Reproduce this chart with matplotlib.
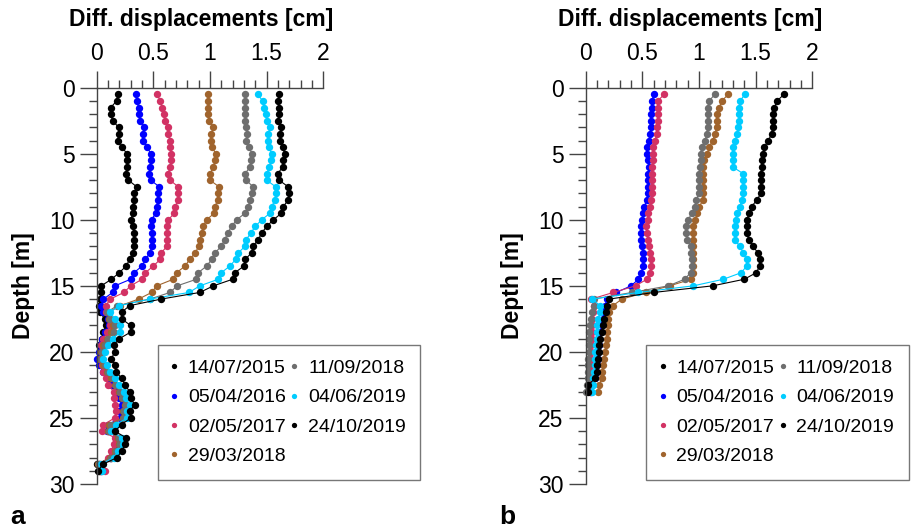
"""
Differential displacement profiles (inclinometer), two boreholes a / b.
"""

import matplotlib
matplotlib.use("Agg")
import matplotlib.pyplot as plt
from matplotlib.lines import Line2D
from matplotlib.ticker import MultipleLocator

plt.rcParams["font.family"] = ["Liberation Sans", "DejaVu Sans"]

# ── Data ───────────────────────────────────────────────────────────────────
DATES = ["14/07/2015", "05/04/2016", "02/05/2017", "29/03/2018",
         "11/09/2018", "04/06/2019", "24/10/2019"]
COLORS = ["#000000", "#0000FF", "#D23264", "#A0642D",
          "#6E6E6E", "#00CCFF", "#000000"]

# depth of readings [m]
DEPTH_A = [0.5, 1, 1.5, 2, 2.5, 3, 3.5, 4, 4.5, 5, 5.5, 6, 6.5, 7, 7.5, 8, 8.5, 9, 9.5, 10,
           10.5, 11, 11.5, 12, 12.5, 13, 13.5, 14, 14.5, 15, 15.5, 16, 16.5, 17, 17.5, 18,
           18.5, 19, 19.5, 20, 20.5, 21, 21.5, 22, 22.5, 23, 23.5, 24, 24.5, 25, 25.5, 26,
           26.5, 27, 27.5, 28, 28.5, 29]
DEPTH_B = [0.5, 1, 1.5, 2, 2.5, 3, 3.5, 4, 4.5, 5, 5.5, 6, 6.5, 7, 7.5, 8, 8.5, 9, 9.5, 10,
           10.5, 11, 11.5, 12, 12.5, 13, 13.5, 14, 14.5, 15, 15.5, 16, 16.5, 17, 17.5, 18,
           18.5, 19, 19.5, 20, 20.5, 21, 21.5, 22, 22.5, 23]

# panel a, diff. displacements [cm]
A_2015_07 = [0.185, 0.176, 0.124, 0.124, 0.14, 0.194, 0.194, 0.185, 0.22, 0.27, 0.27, 0.27, 0.256, 0.28, 0.353, 0.33, 0.33, 0.32, 0.32, 0.30,
             0.32, 0.33, 0.33, 0.33, 0.32, 0.29, 0.26, 0.20, 0.13, 0.04, 0.04, 0.03,
             0.02, 0.03, 0.07, 0.08, 0.06, 0.05, 0.02, 0.03, 0.02, 0.04, 0.07, 0.11, 0.14, 0.19, 0.21, 0.24, 0.21, 0.22, 0.11, 0.10, 0.20, 0.20, 0.17, 0.13, 0.0, 0.02]
A_2016_04 = [0.347, 0.353, 0.37, 0.376, 0.382, 0.42, 0.406, 0.406, 0.447, 0.476, 0.476, 0.47, 0.465, 0.476, 0.553, 0.544, 0.538, 0.53, 0.52, 0.485,
             0.48, 0.485, 0.485, 0.485, 0.47, 0.43, 0.40, 0.33, 0.30, 0.16, 0.14, 0.06,
             0.04, 0.06, 0.10, 0.11, 0.07, 0.05, 0.03, 0.02, 0.0, 0.02, 0.06, 0.10, 0.13, 0.18, 0.20, 0.22, 0.20, 0.21, 0.10, 0.09, 0.19, 0.19, 0.16, 0.12, 0.02, 0.04]
A_2017_05 = [0.535, 0.56, 0.58, 0.594, 0.60, 0.626, 0.632, 0.647, 0.647, 0.66, 0.656, 0.647, 0.632, 0.647, 0.72, 0.72, 0.72, 0.69, 0.685, 0.632,
             0.62, 0.62, 0.62, 0.62, 0.57, 0.56, 0.50, 0.43, 0.40, 0.30, 0.24, 0.12,
             0.08, 0.08, 0.12, 0.12, 0.09, 0.06, 0.04, 0.06, 0.03, 0.05, 0.06, 0.08, 0.10, 0.15, 0.15, 0.16, 0.17, 0.16, 0.06, 0.05, 0.16, 0.15, 0.13, 0.10, 0.03, 0.07]
A_2018_03 = [0.985, 0.985, 0.985, 0.985, 0.99, 1.03, 1.01, 1.01, 1.02, 1.05, 1.044, 1.03, 1.0, 1.0, 1.08, 1.067, 1.067, 1.044, 1.038, 0.97,
             0.94, 0.925, 0.91, 0.90, 0.87, 0.82, 0.78, 0.706, 0.676, 0.53, 0.485, 0.37,
             0.21, 0.10, 0.11, 0.14, 0.13, 0.09, 0.06, 0.04, 0.03, 0.06, 0.09, 0.13, 0.16, 0.20, 0.22, 0.25, 0.23, 0.23, 0.11, 0.10, 0.19, 0.20, 0.16, 0.12, 0.01, 0.03]
A_2018_09 = [1.31, 1.31, 1.31, 1.31, 1.31, 1.32, 1.33, 1.32, 1.344, 1.37, 1.36, 1.353, 1.31, 1.32, 1.38, 1.367, 1.353, 1.338, 1.31, 1.235,
             1.19, 1.156, 1.13, 1.10, 1.044, 1.015, 0.97, 0.897, 0.88, 0.71, 0.647, 0.47,
             0.18, 0.09, 0.12, 0.16, 0.15, 0.10, 0.07, 0.05, 0.04, 0.07, 0.10, 0.14, 0.17, 0.21, 0.23, 0.26, 0.24, 0.24, 0.13, 0.11, 0.20, 0.21, 0.17, 0.13, 0.02, 0.04]
A_2019_06 = [1.42, 1.465, 1.48, 1.494, 1.5, 1.53, 1.515, 1.515, 1.52, 1.544, 1.538, 1.524, 1.5, 1.5, 1.58, 1.58, 1.574, 1.544, 1.53, 1.456,
             1.40, 1.36, 1.32, 1.31, 1.25, 1.226, 1.176, 1.10, 1.074, 0.91, 0.815, 0.47,
             0.20, 0.12, 0.16, 0.21, 0.21, 0.14, 0.10, 0.07, 0.06, 0.09, 0.12, 0.16, 0.20, 0.24, 0.26, 0.29, 0.27, 0.27, 0.17, 0.13, 0.22, 0.23, 0.19, 0.15, 0.04, 0.05]
A_2019_10 = [1.61, 1.60, 1.61, 1.61, 1.60, 1.63, 1.62, 1.62, 1.64, 1.66, 1.647, 1.64, 1.60, 1.61, 1.69, 1.70, 1.69, 1.647, 1.63, 1.56,
             1.50, 1.456, 1.426, 1.38, 1.367, 1.31, 1.30, 1.22, 1.20, 1.03, 0.91, 0.57,
             0.29, 0.22, 0.22, 0.30, 0.30, 0.20, 0.15, 0.16, 0.13, 0.16, 0.17, 0.22, 0.25, 0.29, 0.30, 0.335, 0.29, 0.30, 0.22, 0.16, 0.26, 0.25, 0.22, 0.18, 0.056, 0.01]

# panel b (no 14/07/2015 curve drawn)
B_2016_04 = [0.603, 0.582, 0.582, 0.576, 0.576, 0.576, 0.568, 0.559, 0.538, 0.538, 0.553, 0.559, 0.553, 0.553, 0.553, 0.547, 0.538, 0.518, 0.509, 0.50,
             0.49, 0.49, 0.49, 0.50, 0.506, 0.506, 0.506, 0.49, 0.465, 0.40, 0.27, 0.19,
             0.17, 0.16, 0.15, 0.14, 0.13, 0.12, 0.115, 0.11, 0.105, 0.10, 0.09, 0.08, 0.06, 0.05]
B_2017_05 = [0.694, 0.635, 0.635, 0.635, 0.635, 0.626, 0.626, 0.612, 0.597, 0.597, 0.59, 0.582, 0.582, 0.582, 0.582, 0.582, 0.576, 0.568, 0.553, 0.547,
             0.535, 0.54, 0.55, 0.56, 0.565, 0.574, 0.58, 0.565, 0.54, 0.44, 0.244, 0.05,
             0.07, 0.065, 0.06, 0.06, 0.055, 0.055, 0.05, 0.05, 0.05, 0.045, 0.045, 0.04, 0.04, 0.04]
B_2018_03 = [1.26, 1.2, 1.18, 1.16, 1.156, 1.156, 1.14, 1.12, 1.09, 1.074, 1.047, 1.038, 1.032, 1.032, 1.032, 1.032, 1.038, 1.0, 0.985, 0.965,
             0.95, 0.947, 0.947, 0.947, 0.947, 0.95, 0.95, 0.947, 0.93, 0.74, 0.53, 0.32,
             0.24, 0.21, 0.20, 0.20, 0.19, 0.185, 0.18, 0.17, 0.165, 0.156, 0.147, 0.14, 0.12, 0.11]
B_2018_09 = [1.14, 1.09, 1.076, 1.076, 1.076, 1.076, 1.068, 1.053, 1.024, 1.015, 1.015, 1.009, 1.003, 1.003, 1.003, 1.0, 0.974, 0.965, 0.935, 0.906,
             0.888, 0.888, 0.897, 0.926, 0.932, 0.94, 0.94, 0.926, 0.873, 0.73, 0.41, 0.07,
             0.07, 0.053, 0.044, 0.038, 0.032, 0.032, 0.032, 0.032, 0.024, 0.024, 0.024, 0.02, 0.01, 0.005]
B_2019_06 = [1.406, 1.362, 1.356, 1.356, 1.356, 1.347, 1.338, 1.318, 1.297, 1.297, 1.297, 1.297, 1.39, 1.39, 1.39, 1.39, 1.376, 1.362, 1.332, 1.326,
             1.315, 1.315, 1.315, 1.36, 1.39, 1.42, 1.42, 1.374, 1.215, 0.95, 0.465, 0.06,
             0.126, 0.126, 0.112, 0.103, 0.097, 0.097, 0.091, 0.082, 0.082, 0.082, 0.074, 0.068, 0.062, 0.053]
B_2019_10 = [1.75, 1.69, 1.665, 1.656, 1.656, 1.65, 1.64, 1.612, 1.576, 1.568, 1.553, 1.553, 1.547, 1.547, 1.547, 1.547, 1.51, 1.465, 1.444, 1.42,
             1.42, 1.42, 1.44, 1.476, 1.52, 1.535, 1.535, 1.506, 1.40, 1.12, 0.60, 0.21,
             0.185, 0.18, 0.165, 0.15, 0.14, 0.13, 0.12, 0.12, 0.11, 0.104, 0.10, 0.082, 0.024, 0.024]

SERIES_A = [A_2015_07, A_2016_04, A_2017_05, A_2018_03, A_2018_09, A_2019_06, A_2019_10]
SERIES_B = [None, B_2016_04, B_2017_05, B_2018_03, B_2018_09, B_2019_06, B_2019_10]

X_TICKS = [0, 0.5, 1, 1.5, 2]
X_TICKLABELS = ["0", "0.5", "1", "1.5", "2"]
Y_TICKS = [0, 5, 10, 15, 20, 25, 30]

SPINE = "#444444"


def draw_panel(fig, rect, depth, series, legend_xy, letter, letter_xy):
    ax = fig.add_axes(rect)
    for vals, col in zip(series, COLORS):
        if vals is None:
            continue
        ax.plot(vals, depth, "-o", color=col, lw=0.8, ms=5.3, mew=0, clip_on=False)

    ax.set_xlim(0, 2)
    ax.set_ylim(30, 0)
    ax.xaxis.tick_top()
    ax.xaxis.set_label_position("top")
    ax.set_xticks(X_TICKS, X_TICKLABELS)
    ax.set_yticks(Y_TICKS)
    ax.xaxis.set_minor_locator(MultipleLocator(0.1))
    ax.yaxis.set_minor_locator(MultipleLocator(1))
    ax.tick_params(which="major", length=12, width=1, color=SPINE, labelsize=16.5, pad=4)
    ax.tick_params(which="minor", length=6, width=1, color=SPINE)
    for side in ["bottom", "right"]:
        ax.spines[side].set_visible(False)
    for side in ["top", "left"]:
        ax.spines[side].set_color(SPINE)
        ax.spines[side].set_linewidth(1)

    ax.set_xlabel("Diff. displacements [cm]", fontsize=16.5, fontweight="bold", va="center")
    ax.xaxis.set_label_coords(0.46, 1.172)
    ax.set_ylabel("Depth [m]", fontsize=16.5, fontweight="bold", va="center")
    ax.yaxis.set_label_coords(-0.325, 0.5)

    handles = [Line2D([], [], ls="none", marker="o", ms=3.8, mew=0, color=c) for c in COLORS]
    leg = fig.legend(handles, DATES, ncol=2, loc="upper left",
                     bbox_to_anchor=legend_xy, bbox_transform=fig.transFigure,
                     fontsize=14, frameon=True, fancybox=False, borderaxespad=0,
                     borderpad=0.75, labelspacing=0.6, handlelength=0.2,
                     handletextpad=0.6, columnspacing=0.35)
    leg.get_frame().set_edgecolor("#555555")
    leg.get_frame().set_linewidth(1)

    fig.text(letter_xy[0], letter_xy[1], letter, fontsize=19, fontweight="bold",
             ha="center", va="center")
    return ax


def main():
    W, H = 916, 530
    fig = plt.figure(figsize=(W / 100, H / 100), dpi=100)

    draw_panel(fig, [96.7 / W, 1 - 484 / H, 226.6 / W, 396.3 / H], DEPTH_A, SERIES_A,
               (157.7 / W, 1 - 345 / H), "a", (18 / W, 1 - 517 / H))
    draw_panel(fig, [585.7 / W, 1 - 484 / H, 226.6 / W, 396.3 / H], DEPTH_B, SERIES_B,
               (646 / W, 1 - 345 / H), "b", (507 / W, 1 - 517 / H))

    fig.savefig("out.png", dpi=100)
    plt.close(fig)


if __name__ == "__main__":
    main()
